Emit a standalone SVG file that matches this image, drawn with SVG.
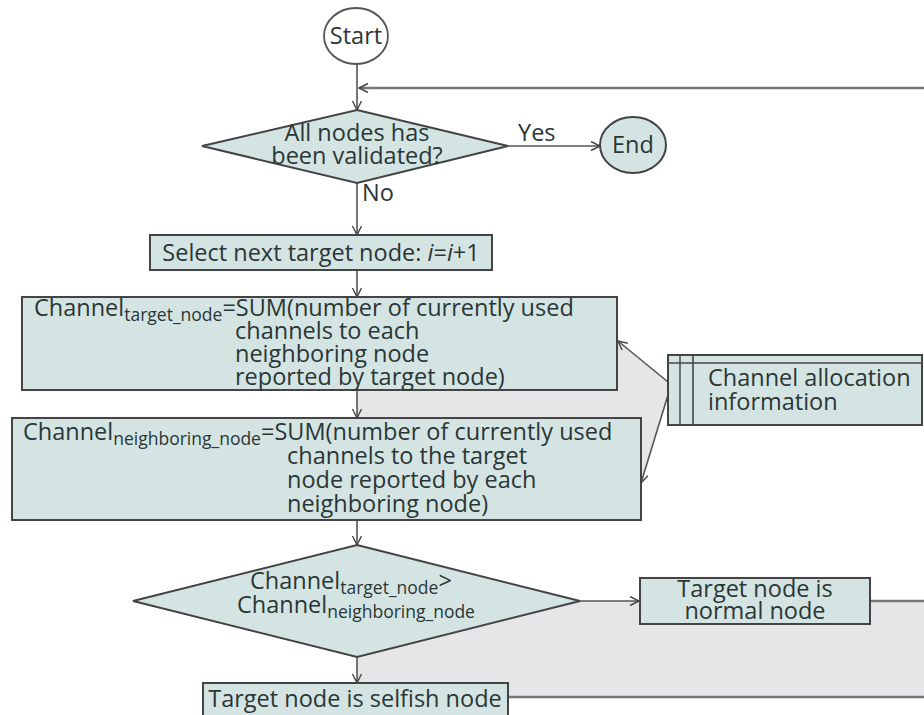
<svg xmlns="http://www.w3.org/2000/svg" width="924" height="715" viewBox="0 0 924 715">
<defs>
<marker id="arr" markerWidth="12" markerHeight="12" refX="10" refY="5" orient="auto" markerUnits="userSpaceOnUse">
<path d="M1,0.5 L10,5 L1,9.5" fill="none" stroke="#444" stroke-width="1.4"/>
</marker>
<style>
.box{fill:#d3e4e3;stroke:#444;stroke-width:2}
.t{font-family:"Open Sans","Noto Sans",sans-serif;font-size:23.5px;font-weight:500;fill:#2b3636}
.sub{font-size:17.5px}
.ln{fill:none;stroke:#555;stroke-width:1.6}
.gl{fill:none;stroke:#777;stroke-width:2.4}
</style>
</defs>
<rect width="924" height="715" fill="#ffffff"/>
<!-- gray background regions -->
<polygon points="357,388 617,388 617,340 668,382 668,396 641,483 641,418 357,418" fill="#e6e5e8"/>
<rect x="357" y="601" width="567" height="96" fill="#e6e5e8"/>

<g id="connectors">
<line class="ln" x1="357" y1="64" x2="357" y2="110" marker-end="url(#arr)"/>
<line class="gl" x1="924" y1="88" x2="359" y2="88" marker-end="url(#arr)"/>
<line class="ln" x1="508" y1="146" x2="600" y2="146" marker-end="url(#arr)"/>
<line class="ln" x1="357" y1="183" x2="357" y2="235" marker-end="url(#arr)"/>
<line class="ln" x1="357" y1="270" x2="357" y2="297" marker-end="url(#arr)"/>
<line class="ln" x1="357" y1="390" x2="357" y2="418" marker-end="url(#arr)"/>
<line class="ln" x1="357" y1="520" x2="357" y2="545" marker-end="url(#arr)"/>
<line class="ln" x1="580" y1="601" x2="639" y2="601" marker-end="url(#arr)"/>
<line class="ln" x1="357" y1="657" x2="357" y2="683" marker-end="url(#arr)"/>
<line class="ln" x1="668" y1="382" x2="618" y2="341" marker-end="url(#arr)"/>
<line class="ln" x1="668" y1="395" x2="641" y2="483" marker-end="url(#arr)"/>
<line class="gl" x1="870" y1="601" x2="924" y2="601"/>
<line class="gl" x1="508" y1="697" x2="924" y2="697"/>
<text class="t" x="518" y="141">Yes</text>
<text class="t" x="362" y="201">No</text>
</g>

<g id="start">
<ellipse cx="356" cy="36" rx="32" ry="28" fill="#ffffff" stroke="#555" stroke-width="1.8"/>
<text class="t" x="356" y="44" text-anchor="middle">Start</text>
</g>

<g id="validated">
<polygon class="box" points="357,110 508,146 357,183 202,146"/>
<text class="t" x="357" y="141" text-anchor="middle">All nodes has</text>
<text class="t" x="357" y="164" text-anchor="middle">been validated?</text>
</g>

<g id="end">
<ellipse class="box" cx="633" cy="145" rx="33" ry="28"/>
<text class="t" x="633" y="153" text-anchor="middle">End</text>
</g>

<g id="select">
<rect class="box" x="150" y="235" width="342" height="35"/>
<text class="t" x="321" y="261" text-anchor="middle">Select next target node: <tspan font-style="italic">i</tspan>=<tspan font-style="italic">i</tspan>+1</text>
</g>

<g id="channel-target">
<rect class="box" x="22" y="297" width="595" height="93"/>
<text class="t" x="34" y="316">Channel<tspan class="sub" dy="5">target_node</tspan><tspan dy="-5">=SUM(number of currently used</tspan></text>
<text class="t" x="235" y="339">channels to each</text>
<text class="t" x="235" y="362">neighboring node</text>
<text class="t" x="235" y="385">reported by target node)</text>
</g>

<g id="channel-neighbor">
<rect class="box" x="12" y="418" width="629" height="102"/>
<text class="t" x="23" y="440">Channel<tspan class="sub" dy="5">neighboring_node</tspan><tspan dy="-5">=SUM(number of currently used</tspan></text>
<text class="t" x="287" y="464">channels to the target</text>
<text class="t" x="287" y="488">node reported by each</text>
<text class="t" x="287" y="512">neighboring node)</text>
</g>

<g id="alloc-info">
<rect class="box" x="668" y="355" width="254" height="70"/>
<line x1="668" y1="363" x2="922" y2="363" stroke="#444" stroke-width="1.6"/>
<line x1="680" y1="355" x2="680" y2="425" stroke="#444" stroke-width="1.4"/>
<line x1="693" y1="355" x2="693" y2="425" stroke="#444" stroke-width="1.6"/>
<text class="t" x="708" y="386">Channel allocation</text>
<text class="t" x="708" y="410">information</text>
</g>

<g id="compare">
<polygon class="box" points="357,545 580,601 357,657 133,601"/>
<text class="t" x="250" y="589">Channel<tspan class="sub" dy="5">target_node</tspan><tspan dy="-5">&gt;</tspan></text>
<text class="t" x="237" y="613">Channel<tspan class="sub" dy="5">neighboring_node</tspan></text>
</g>

<g id="normal">
<rect class="box" x="640" y="578" width="230" height="46"/>
<text class="t" x="755" y="597" text-anchor="middle">Target node is</text>
<text class="t" x="755" y="619" text-anchor="middle">normal node</text>
</g>

<g id="selfish">
<rect class="box" x="203" y="683" width="305" height="40"/>
<text class="t" x="355" y="707" text-anchor="middle">Target node is selfish node</text>
</g>
</svg>
